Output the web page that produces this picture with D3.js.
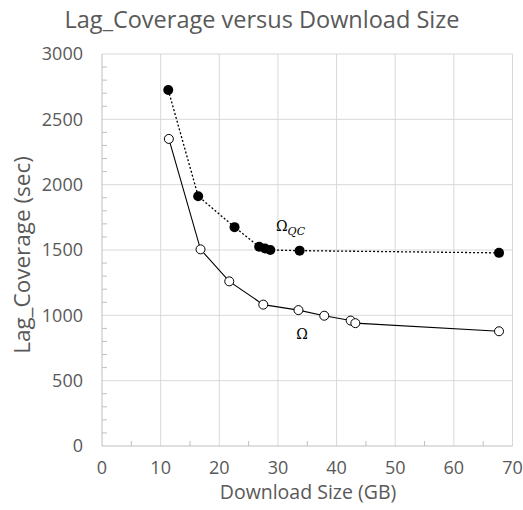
<!DOCTYPE html>
<html>
<head>
<meta charset="utf-8">
<script src="https://cdn.jsdelivr.net/npm/d3@7"></script>
<style>
  html, body { margin: 0; padding: 0; background: #fff; }
  svg { display: block; }
</style>
</head>
<body>
<div id="chart"></div>
<script>
// data
const omegaX  = [11.4, 16.8, 21.7, 27.5, 33.5, 37.9, 42.4, 43.2, 67.7];
const omegaY  = [2350, 1505, 1260, 1082, 1040, 997, 960, 940, 878];
const omegaQcX = [11.3, 16.4, 22.6, 26.8, 27.8, 28.7, 33.7, 67.7];
const omegaQcY = [2725, 1912, 1675, 1525, 1512, 1500, 1495, 1478];
const xTicks = [0, 10, 20, 30, 40, 50, 60, 70];
const yTicks = [0, 500, 1000, 1500, 2000, 2500, 3000];

const W = 523, H = 510;
const margin = { left: 102, right: 10, top: 54, bottom: 64 };
const grey = '#595959';

const svg = d3.select('#chart').append('svg')
  .attr('width', W).attr('height', H);

const x = d3.scaleLinear().domain([0, 70]).range([margin.left, 512.5]);
const y = d3.scaleLinear().domain([0, 3000]).range([446, margin.top]);

// grid
svg.append('g').selectAll('line').data(xTicks.slice(1)).join('line')
  .attr('x1', d => x(d)).attr('x2', d => x(d))
  .attr('y1', y(0)).attr('y2', y(3000))
  .attr('stroke', '#d9d9d9').attr('stroke-width', 1);
svg.append('g').selectAll('line').data(yTicks.slice(1)).join('line')
  .attr('x1', x(0)).attr('x2', x(70))
  .attr('y1', d => y(d)).attr('y2', d => y(d))
  .attr('stroke', '#d9d9d9').attr('stroke-width', 1);

// axes lines
svg.append('line').attr('x1', x(0)).attr('x2', x(0)).attr('y1', y(0)).attr('y2', y(3000))
  .attr('stroke', '#bfbfbf');
svg.append('line').attr('x1', x(0)).attr('x2', x(70)).attr('y1', y(0)).attr('y2', y(0))
  .attr('stroke', '#bfbfbf');

// minor ticks (inside)
const yMinor = d3.range(100, 3000, 100).filter(v => v % 500 !== 0);
svg.append('g').selectAll('line').data(yMinor).join('line')
  .attr('x1', x(0)).attr('x2', x(0) + 5)
  .attr('y1', d => y(d)).attr('y2', d => y(d))
  .attr('stroke', '#bfbfbf');
const xMinor = d3.range(5, 70, 10);
svg.append('g').selectAll('line').data(xMinor).join('line')
  .attr('x1', d => x(d)).attr('x2', d => x(d))
  .attr('y1', y(0)).attr('y2', y(0) - 5)
  .attr('stroke', '#bfbfbf');

// tick labels
const font = "'Open Sans', 'Liberation Sans', sans-serif";
svg.append('g').selectAll('text').data(xTicks).join('text')
  .attr('x', d => x(d)).attr('y', 474)
  .attr('text-anchor', 'middle')
  .attr('font-family', font).attr('font-size', 18).attr('fill', grey)
  .text(d => d);
svg.append('g').selectAll('text').data(yTicks).join('text')
  .attr('x', 83).attr('y', d => y(d)).attr('dy', '0.35em')
  .attr('text-anchor', 'end')
  .attr('font-family', font).attr('font-size', 18).attr('fill', grey)
  .text(d => d);

// titles
svg.append('text').attr('x', 262).attr('y', 28).attr('text-anchor', 'middle')
  .attr('font-family', font).attr('font-size', 23.5).attr('fill', grey)
  .text('Lag_Coverage versus Download Size');
svg.append('text').attr('x', 308).attr('y', 499).attr('text-anchor', 'middle')
  .attr('font-family', font).attr('font-size', 19.5).attr('fill', grey)
  .text('Download Size (GB)');
svg.append('text').attr('transform', 'translate(30,255) rotate(-90)')
  .attr('text-anchor', 'middle')
  .attr('font-family', font).attr('font-size', 22.5).attr('fill', grey)
  .text('Lag_Coverage (sec)');

// series
const line = d3.line().x(d => x(d[0])).y(d => y(d[1]));
const omega = omegaX.map((v, i) => [v, omegaY[i]]);
const omegaQc = omegaQcX.map((v, i) => [v, omegaQcY[i]]);

svg.append('path').datum(omegaQc).attr('d', line)
  .attr('fill', 'none').attr('stroke', '#000').attr('stroke-width', 1.3)
  .attr('stroke-dasharray', '2,2');
svg.append('path').datum(omega).attr('d', line)
  .attr('fill', 'none').attr('stroke', '#000').attr('stroke-width', 1.1);

svg.append('g').selectAll('circle').data(omegaQc).join('circle')
  .attr('cx', d => x(d[0])).attr('cy', d => y(d[1])).attr('r', 5)
  .attr('fill', '#000');
svg.append('g').selectAll('circle').data(omega).join('circle')
  .attr('cx', d => x(d[0])).attr('cy', d => y(d[1])).attr('r', 4.5)
  .attr('fill', '#fff').attr('stroke', '#000').attr('stroke-width', 1);

// series labels
const serif = "'DejaVu Serif', 'Liberation Serif', serif";
const qc = svg.append('text').attr('x', 276).attr('y', 231)
  .attr('font-family', serif).attr('font-size', 14).attr('fill', '#000');
qc.append('tspan').text('Ω');
qc.append('tspan').attr('dy', 4).attr('font-size', 11).attr('font-style', 'italic').text('QC');
svg.append('text').attr('x', 302).attr('y', 339).attr('text-anchor', 'middle')
  .attr('font-family', serif).attr('font-size', 14).attr('fill', '#000')
  .text('Ω');
</script>
</body>
</html>
